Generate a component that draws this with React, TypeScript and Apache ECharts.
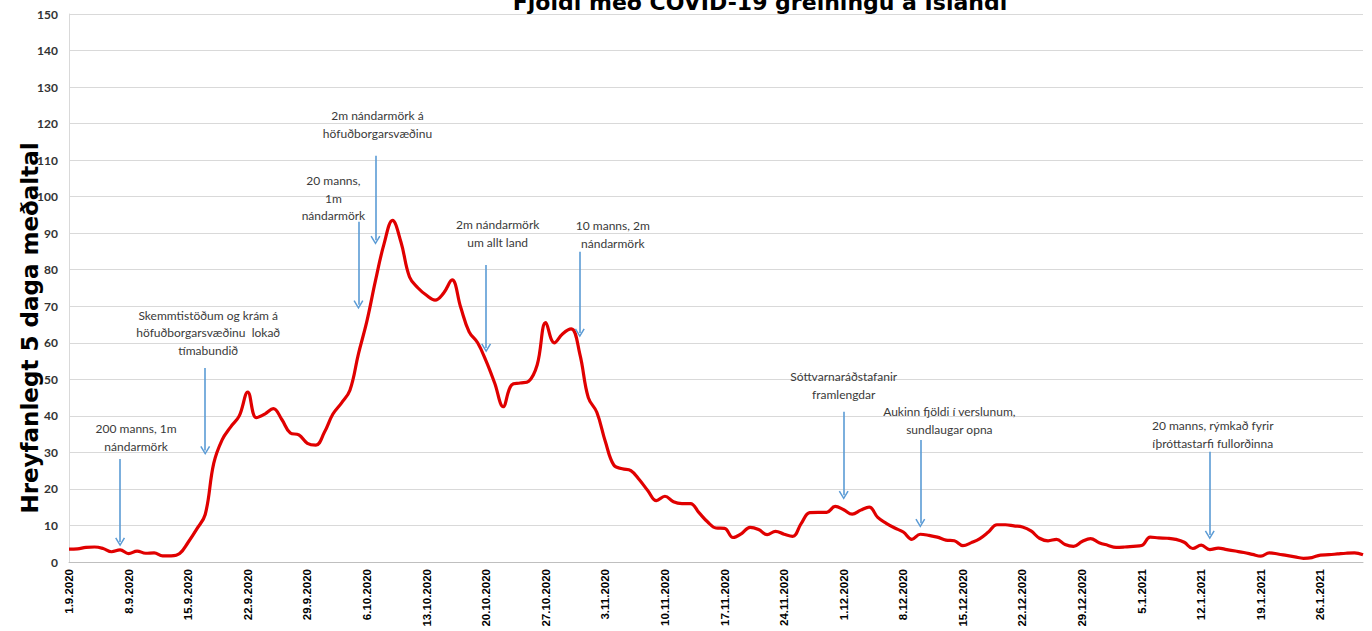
import React, { useEffect, useRef } from "react";
import * as echarts from "echarts";

// Moving 5-day average, one value per day from 1.9.2020 to 31.1.2021
const values: number[] = [
  3.5, 3.6, 4.0, 4.1, 3.7, 2.8, 3.3, 2.3, 3.0, 2.4,
  2.5, 1.7, 1.7, 2.3, 5.4, 9.0, 13.0, 27.0, 33.5, 37.0,
  40.0, 46.5, 39.5, 40.5, 42.0, 39.0, 35.3, 34.8, 32.5, 32.0,
  35.5, 40.5, 43.5, 47.0, 57.0, 66.0, 77.0, 87.0, 93.5, 87.5,
  78.0, 75.0, 73.0, 71.7, 73.6, 77.2, 69.8, 63.0, 60.0, 55.0,
  49.0, 42.5, 48.5, 49.0, 49.5, 54.0, 65.5, 60.0, 62.5, 63.8,
  57.0, 45.0, 41.0, 33.0, 26.5, 25.5, 25.0, 22.5, 19.5, 16.8,
  18.0, 16.5, 16.0, 16.0, 13.5, 11.0, 9.3, 9.2, 6.7, 7.8,
  9.5, 8.9, 7.5, 8.4, 7.6, 7.0, 10.5, 13.5, 13.6, 13.6,
  15.2, 14.3, 13.1, 14.2, 15.0, 12.2, 10.6, 9.3, 8.2, 6.2,
  7.6, 7.3, 6.8, 6.0, 5.8, 4.5, 5.3, 6.4, 8.2, 10.2,
  10.2, 9.9, 9.6, 8.5, 6.5, 5.8, 6.2, 4.8, 4.3, 5.6,
  6.4, 5.3, 4.6, 4.0, 4.1, 4.3, 4.5, 6.8, 6.6, 6.5,
  6.2, 5.4, 3.7, 4.6, 3.4, 3.8, 3.4, 3.0, 2.6, 2.1,
  1.6, 2.5, 2.2, 1.8, 1.4, 1.0, 1.2, 1.9, 2.0, 2.2,
  2.4, 2.5, 2.0,
];

// Category labels: consecutive days starting 1.9.2020
const startDate = [2020, 8, 1];
const dates: string[] = values.map((_, i) => {
  const d = new Date(startDate[0], startDate[1], startDate[2] + i);
  return `${d.getDate()}.${d.getMonth() + 1}.${d.getFullYear()}`;
});

const yTicks = { min: 0, max: 150, interval: 10 };

const titleText = "Fjöldi með COVID-19 greiningu á Íslandi";
const yAxisTitle = "Hreyfanlegt 5 daga meðaltal";

// Annotation texts: day index, value at text centre, small pixel nudge
const noteTexts: string[] = [
  "200 manns, 1m\nnándarmörk",
  "Skemmtistöðum og krám á\nhöfuðborgarsvæðinu  lokað\ntímabundið",
  "20 manns,\n1m\nnándarmörk",
  "2m nándarmörk á\nhöfuðborgarsvæðinu",
  "2m nándarmörk\num allt land",
  "10 manns, 2m\nnándarmörk",
  "Sóttvarnaráðstafanir\nframlengdar",
  "Aukinn fjöldi í verslunum,\nsundlaugar opna",
  "20 manns, rýmkað fyrir\níþróttastarfi fullorðinna",
];
const noteDays: number[] = [8, 16, 31, 36, 50, 64, 91, 103, 134];
const noteValues: number[] = [34.1, 62.7, 99.6, 119.7, 89.9, 89.7, 48.3, 38.7, 34.9];
const noteNudge: number[] = [-1, 3, 0.5, 2, 3, -1, 0, 3.5, 3];

// Arrows: day index, top value, tip value
const arrowDays: number[] = [6, 16, 34, 36, 49, 60, 91, 100, 134];
const arrowTop: number[] = [28.2, 53.1, 93.1, 111.2, 81.3, 84.9, 41.1, 33.4, 30.2];
const arrowTip: number[] = [5.5, 30.5, 70.4, 88.1, 58.6, 62.7, 18.3, 10.6, 7.4];

const chevron =
  "path://M5,0 L10,8.4 L8.7,9.2 L5,2.8 L1.3,9.2 L0,8.4 Z";

export default function App() {
  const ref = useRef<HTMLDivElement>(null);

  useEffect(() => {
    if (!ref.current) return;
    const chart = echarts.init(ref.current, undefined, { renderer: "svg" });

    chart.setOption({
      animation: false,
      backgroundColor: "#ffffff",
      grid: {
        left: 69,
        right: 9,
        top: 14,
        bottom: 69,
        containLabel: false,
        outerBoundsMode: "none",
      },
      graphic: [
        {
          type: "text",
          x: 760,
          y: 13,
          style: {
            text: titleText,
            font: "bold 22px 'DejaVu Sans'",
            fill: "#000000",
            align: "center",
            verticalAlign: "bottom",
          },
        },
        {
          type: "text",
          x: 30,
          y: 328,
          rotation: Math.PI / 2,
          style: {
            text: yAxisTitle,
            font: "bold 23px 'DejaVu Sans'",
            fill: "#000000",
            align: "center",
            verticalAlign: "middle",
          },
        },
      ],
      xAxis: {
        type: "category",
        data: dates,
        boundaryGap: false,
        axisLine: { show: true, lineStyle: { color: "#bfbfbf", width: 1 } },
        axisTick: { show: false },
        splitLine: { show: false },
        axisLabel: {
          interval: 6,
          rotate: 90,
          margin: 7,
          color: "#000000",
          fontFamily: "'Liberation Sans', Arial, sans-serif",
          fontWeight: "bold",
          fontSize: 11.5,
        },
      },
      yAxis: {
        type: "value",
        min: yTicks.min,
        max: yTicks.max,
        interval: yTicks.interval,
        axisLine: { show: true, lineStyle: { color: "#d9d9d9", width: 1 } },
        axisTick: { show: false },
        splitLine: { show: true, lineStyle: { color: "#d9d9d9", width: 1 } },
        axisLabel: {
          margin: 11,
          color: "#333333",
          fontFamily: "Lato, sans-serif",
          fontWeight: "bold",
          fontSize: 12,
        },
      },
      series: [
        {
          type: "line",
          data: values,
          smooth: 0.4,
          symbol: "none",
          lineStyle: { color: "#e00000", width: 3.2 },
          itemStyle: { color: "#e00000" },
          emphasis: { disabled: true },
          markLine: {
            silent: true,
            symbol: ["none", chevron],
            symbolSize: [10, 9],
            lineStyle: { color: "#5b9bd5", width: 1.6, type: "solid" },
            label: { show: false },
            emphasis: { disabled: true },
            data: arrowDays.map((d, i) => [
              { coord: [d, arrowTop[i]] },
              { coord: [d, arrowTip[i]] },
            ]),
          },
          markPoint: {
            silent: true,
            symbol: "rect",
            symbolSize: 1,
            itemStyle: { color: "rgba(0,0,0,0)" },
            emphasis: { disabled: true },
            label: {
              show: true,
              position: "inside",
              formatter: (p: any) => p.name,
              color: "#3a3a3a",
              fontFamily: "Lato, sans-serif",
              fontSize: 12,
              lineHeight: 17.5,
              align: "center",
              verticalAlign: "middle",
            },
            data: noteTexts.map((t, i) => ({
              name: t,
              coord: [noteDays[i], noteValues[i]],
              label: { offset: [noteNudge[i], 0] },
            })),
          },
        },
      ],
    });

    return () => chart.dispose();
  }, []);

  return (
    <div
      ref={ref}
      style={{ position: "fixed", left: 0, top: 0, width: 1372, height: 631 }}
    />
  );
}
